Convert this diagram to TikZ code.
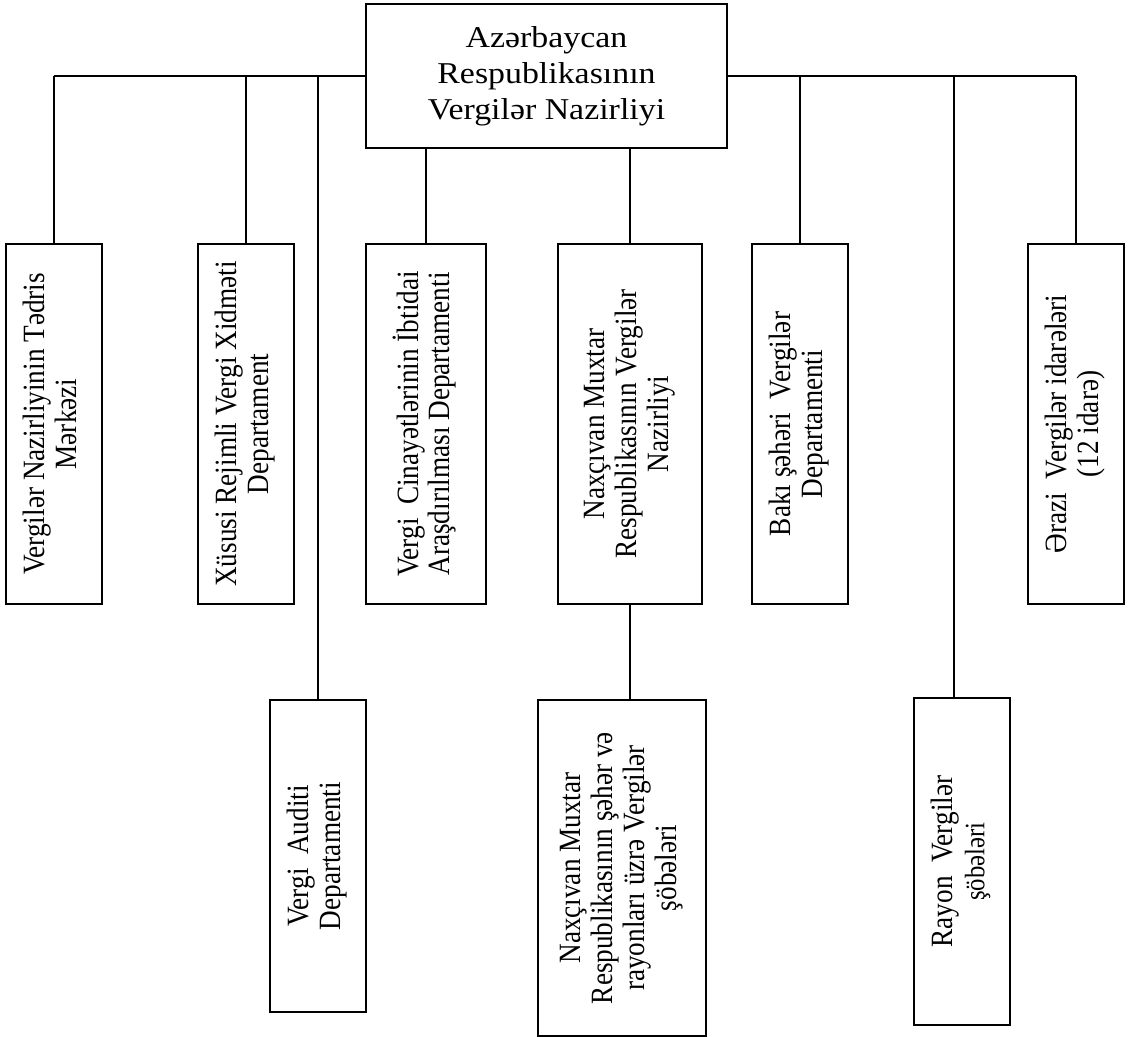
\documentclass[tikz,border=0pt]{standalone}
\usepackage{fontspec}
\setmainfont{Liberation Serif}
\newfontfamily\wideserif[FakeStretch=1.12]{Liberation Serif}
\newfontfamily\narrowserif[FakeStretch=0.88]{Liberation Serif}
\usetikzlibrary{positioning}
\newcommand{\vtext}[1]{\rotatebox{90}{\begin{tabular}{@{}c@{}}#1\end{tabular}}}

\begin{document}
\begin{tikzpicture}[x=0.025cm,y=-0.025cm,
  box/.style={rectangle,draw=black,line width=1.1pt,fill=white,inner sep=0pt,
              font=\narrowserif\fontsize{22}{22.7}\selectfont},
  link/.style={line width=1.1pt}]
  \useasboundingbox (0,0) rectangle (1133,1037);
  % ministry on top
  \node (n0) [box,minimum width=9.025cm,minimum height=3.6cm,align=center,
              font=\wideserif\fontsize{21.5}{25.5}\selectfont] at (546.5,76)
              {Azərbaycan\\Respublikasının\\Vergilər Nazirliyi};
  % first row
  \node (n1) [box,minimum width=2.4cm,minimum height=9cm] at (54,424)
              {\vtext{Vergilər Nazirliyinin Tədris\\Mərkəzi}};
  \node (n2) [box,minimum width=2.4cm,minimum height=9cm] at (246,424)
              {\vtext{Xüsusi Rejimli Vergi Xidməti\\Departament}};
  \node (n4) [box,minimum width=3cm,minimum height=9cm] at (426,424)
              {\vtext{Vergi\ \ Cinayətlərinin İbtidai\\Araşdırılması Departamenti}};
  \node (n5) [box,minimum width=3.6cm,minimum height=9cm] at (630,424)
              {\vtext{Naxçıvan Muxtar\\Respublikasının Vergilər\\Nazirliyi}};
  \node (n6) [box,minimum width=2.4cm,minimum height=9cm] at (800,424)
              {\vtext{Bakı şəhəri\ \ Vergilər\\Departamenti}};
  \node (n8) [box,minimum width=2.4cm,minimum height=9cm] at (1076,424)
              {\vtext{Ərazi\ \ Vergilər idarələri\\(12 idarə)}};
  % second row
  \node (n3) [box,minimum width=2.4cm,minimum height=7.8cm] at (318,856)
              {\vtext{Vergi\ \ Auditi\\Departamenti}};
  \node (n9) [box,minimum width=4.2cm,minimum height=8.4cm] at (622,868)
              {\vtext{Naxçıvan Muxtar\\Respublikasının şəhər və\\rayonları üzrə Vergilər\\şöbələri}};
  \node (n7) [box,minimum width=2.4cm,minimum height=8.175cm] at (962,861.5)
              {\vtext{Rayon\ \ Vergilər\\{\fontsize{20}{20}\selectfont şöbələri}}};
  % connectors
  \foreach \x/\n in {54/1,246/2,318/3,800/6,954/7,1076/8}
    \coordinate (t\n) at (\x,76);
  \draw[link] (t1) -- (n0.west) (n0.east) -- (t8);
  \foreach \n in {1,2,3,6,7,8}
    \draw[link] (t\n) -- (t\n |- n\n.north);
  \draw[link] (n0.south -| n4.north) -- (n4.north);
  \draw[link] (n0.south -| n5.north) -- (n5.north);
  \draw[link] (n5.south) -- (n5.south |- n9.north);
\end{tikzpicture}
\end{document}
